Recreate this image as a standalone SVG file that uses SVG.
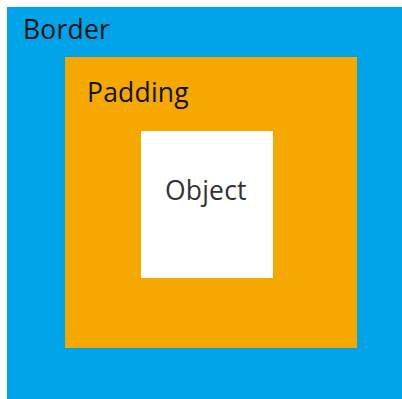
<svg xmlns="http://www.w3.org/2000/svg" width="402" height="399" viewBox="0 0 402 399">
<style>
.t{font-family:"Open Sans","DejaVu Sans",sans-serif;font-size:26.5px;letter-spacing:0.2px}
</style>
<rect width="402" height="399" fill="#ffffff"/>
<g id="border">
<rect x="7" y="7" width="395" height="392" fill="#00a3e8"/>
<text class="t" x="23" y="39" fill="#111">Border</text>
</g>
<g id="padding">
<rect x="65" y="57" width="292" height="291" fill="#f5a800"/>
<text class="t" x="87" y="102" fill="#111">Padding</text>
</g>
<g id="object">
<rect x="141" y="131" width="132" height="147" fill="#ffffff"/>
<text class="t" x="165" y="200" fill="#333">Object</text>
</g>
</svg>
